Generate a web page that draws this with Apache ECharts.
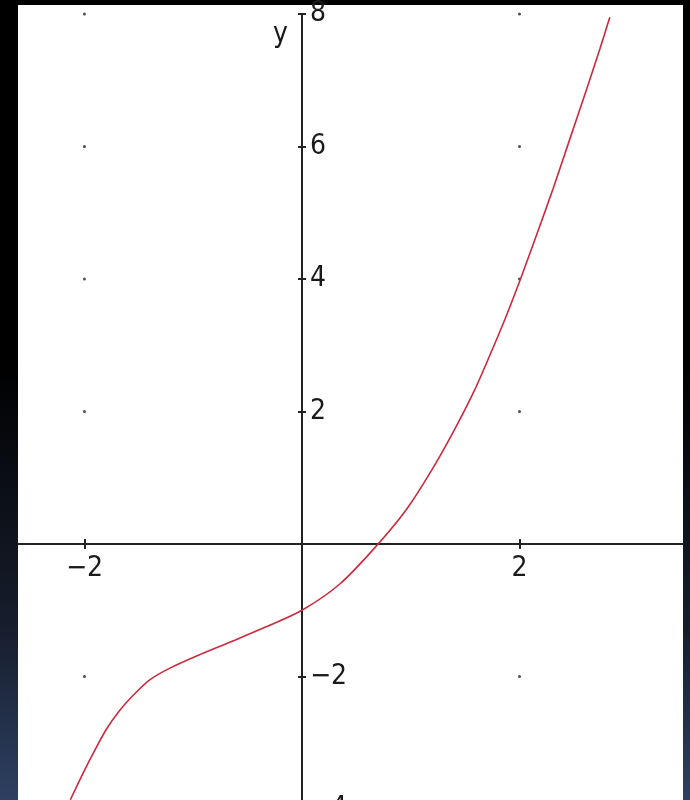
<!DOCTYPE html>
<html>
<head>
<meta charset="utf-8">
<script src="https://cdn.jsdelivr.net/npm/echarts@6/dist/echarts.min.js"></script>
<style>
  html, body { margin: 0; padding: 0; }
  body {
    width: 690px; height: 800px; overflow: hidden; position: relative;
    background: linear-gradient(to bottom, #000 0%, #000 45%, #161d2c 78%, #2e4062 100%);
  }
  #paper { position: absolute; left: 18px; top: 5px; width: 665px; height: 795px; background: #fff; }
  #chart { position: absolute; left: 0; top: 0; width: 690px; height: 800px; }
</style>
</head>
<body>
<div id="paper"></div>
<div id="chart"></div>
<script>
// Curve samples (x, y)
const curveX = [-2.13, -2.01, -1.92, -1.80, -1.68, -1.55, -1.40, -1.21, -0.94, -0.63, -0.33, 0.00, 0.35, 0.70, 0.96, 1.18, 1.39, 1.58, 1.73, 1.88, 2.02, 2.16, 2.31, 2.46, 2.62, 2.74, 2.83];
const curveY = [-3.86, -3.45, -3.16, -2.80, -2.52, -2.28, -2.05, -1.87, -1.67, -1.46, -1.25, -1.00, -0.60, 0.00, 0.52, 1.08, 1.69, 2.30, 2.86, 3.45, 4.05, 4.68, 5.37, 6.10, 6.88, 7.48, 7.95];

// Tick positions / labels
const xTicks = [-2, 2];
const yTicks = [-4, -2, 2, 4, 6, 8];

// Lattice of grid dots
const dotX = [-2, 2];
const dotY = [-2, 2, 4, 6, 8];

const X_MIN = -2.611, X_MAX = 3.503;
const Y_MIN = -4, Y_MAX = 8;

// Plot box in pixels
const W = 690, H = 800;
const G = { left: 18, right: 7, top: 14, bottom: -9 };
const gw = W - G.left - G.right;
const gh = H - G.top - G.bottom;
// Where the zero lines fall inside the plot box
const zeroFromLeft = (0 - X_MIN) / (X_MAX - X_MIN) * gw;
const zeroFromTop = (Y_MAX - 0) / (Y_MAX - Y_MIN) * gh;

const FONT = '"Liberation Sans Narrow", "DejaVu Sans Condensed", "Liberation Sans", sans-serif';
const FONT_SIZE = 28;
const INK = '#1a1a1a';
const fmt = v => (v < 0 ? '\u2212' + Math.abs(v) : String(v));

const curve = curveX.map((x, i) => [x, curveY[i]]);
const dots = [];
dotX.forEach(x => dotY.forEach(y => dots.push([x, y])));

const chart = echarts.init(document.getElementById('chart'), null, { renderer: 'canvas' });

const tickStyle = { color: '#222', width: 2 };

chart.setOption({
  animation: false,
  backgroundColor: 'transparent',
  grid: { left: G.left, right: G.right, top: G.top, bottom: G.bottom, containLabel: false, outerBoundsMode: 'none' },
  xAxis: [
    {
      type: 'value', min: X_MIN, max: X_MAX, position: 'bottom',
      offset: -(gh - zeroFromTop),
      axisLine: { show: true, onZero: false, lineStyle: { color: '#222', width: 2 } },
      axisTick: { show: true, inside: false, length: 5, customValues: xTicks, lineStyle: tickStyle },
      axisLabel: {
        show: true, customValues: xTicks, margin: 11,
        fontFamily: FONT, fontSize: FONT_SIZE, color: INK, formatter: fmt
      },
      splitLine: { show: false }
    },
    {
      type: 'value', min: X_MIN, max: X_MAX, position: 'top',
      offset: -zeroFromTop,
      axisLine: { show: false, onZero: false },
      axisTick: { show: true, inside: false, length: 5, customValues: xTicks, lineStyle: tickStyle },
      axisLabel: { show: false },
      splitLine: { show: false }
    }
  ],
  yAxis: [
    {
      type: 'value', min: Y_MIN, max: Y_MAX, position: 'left',
      offset: -zeroFromLeft,
      axisLine: { show: true, onZero: false, lineStyle: { color: '#222', width: 2 } },
      axisTick: { show: true, inside: false, length: 4, customValues: yTicks, lineStyle: tickStyle },
      axisLabel: {
        show: true, inside: true, customValues: yTicks, margin: 8,
        fontFamily: FONT, fontSize: FONT_SIZE, color: INK, formatter: fmt
      },
      splitLine: { show: false }
    },
    {
      type: 'value', min: Y_MIN, max: Y_MAX, position: 'right',
      offset: -(gw - zeroFromLeft),
      axisLine: { show: false, onZero: false },
      axisTick: { show: true, inside: false, length: 4, customValues: yTicks, lineStyle: tickStyle },
      axisLabel: { show: false },
      splitLine: { show: false }
    }
  ],
  graphic: [
    {
      type: 'text', left: 273, top: 21, z: 10,
      style: { text: 'y', font: FONT_SIZE + 'px ' + FONT, fill: INK }
    }
  ],
  series: [
    {
      type: 'scatter', xAxisIndex: 0, yAxisIndex: 0,
      data: dots, symbol: 'circle', symbolSize: 3,
      itemStyle: { color: '#222' }, silent: true, z: 1
    },
    {
      type: 'line', xAxisIndex: 0, yAxisIndex: 0,
      data: curve, smooth: 0.3, showSymbol: false, clip: false,
      lineStyle: { color: '#cc2a3c', width: 1.6 }, z: 3
    }
  ]
});
</script>
</body>
</html>
